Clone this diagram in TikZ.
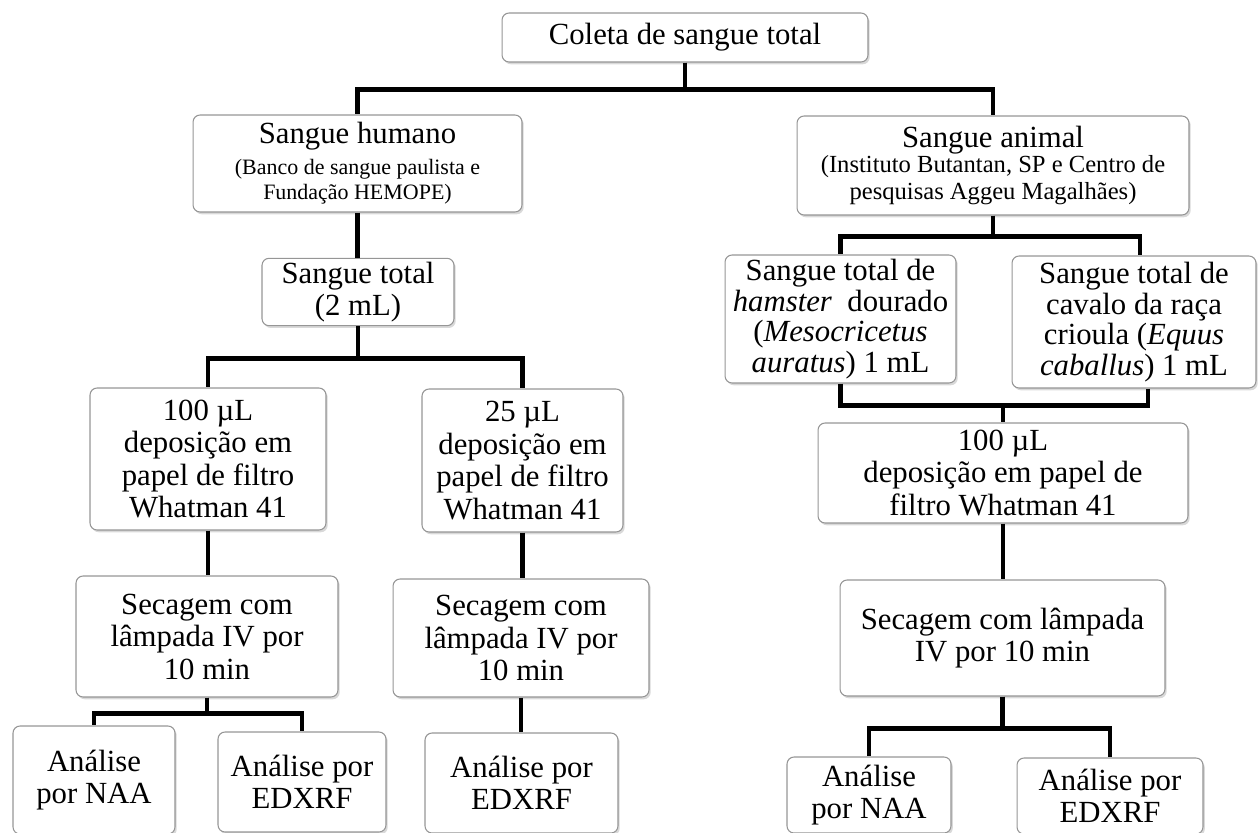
\documentclass[tikz,border=0pt]{standalone}
\usepackage{fontspec}
\setmainfont{Liberation Serif}
\usetikzlibrary{positioning,shadows}
\definecolor{boxline}{RGB}{150,150,150}
\newcommand{\notefont}{\fontsize{12.5}{15}\selectfont}
\newcommand{\notefontR}{\fontsize{14}{15}\selectfont}

\begin{document}
\begin{tikzpicture}[
    x=0.02cm, y=-0.02cm,
    every node/.style={font=\fontsize{17.5}{18.5}\selectfont},
    box/.style={draw=boxline, line width=0.6pt, fill=white, rounded corners=4pt, align=center, inner sep=2pt,
      drop shadow={shadow xshift=1pt, shadow yshift=-1.3pt, opacity=0.3}},
    link/.style={line width=2.6pt}
  ]
    \useasboundingbox (0,0) rectangle (1258,832);

    % topo
    \node[box, minimum width=7.32cm, minimum height=0.98cm] (coleta) at (685,37.5) {Coleta de sangue total};

    % ramo humano
    \node[box, minimum width=6.58cm, minimum height=1.94cm] (humano) at (357.5,163.5) {Sangue humano\\[-1pt]{\notefont (Banco de sangue paulista e}\\[-4pt]{\notefont Fundação HEMOPE)}};
    \node[box, minimum width=3.84cm, minimum height=1.32cm] (total) at (358,292) {Sangue total\\(2 mL)};
    \node[box, minimum width=4.72cm, minimum height=2.84cm] (dep100) at (208,459) {100 µL\\deposição em\\papel de filtro\\Whatman 41};
    \node[box, minimum width=4.02cm, minimum height=2.86cm] (dep25) at (522.5,460.5) {25 µL\\deposição em\\papel de filtro\\Whatman 41};
    \node[box, minimum width=5.24cm, minimum height=2.42cm] (secL) at (207,636.5) {Secagem com\\lâmpada IV por\\10 min};
    \node[box, minimum width=5.12cm, minimum height=2.36cm] (secM) at (521,638) {Secagem com\\lâmpada IV por\\10 min};
    \node[box, minimum width=3.24cm, minimum height=2.16cm] (naaL) at (94,780) {Análise\\por NAA};
    \node[box, minimum width=3.36cm, minimum height=2.0cm] (edxL) at (302,782) {Análise por\\EDXRF};
    \node[box, minimum width=3.86cm, minimum height=2.0cm] (edxM) at (521.5,783) {Análise por\\EDXRF};

    % ramo animal
    \node[box, minimum width=7.84cm, minimum height=1.98cm] (animal) at (993,165.5) {Sangue animal\\[-4pt]{\notefontR (Instituto Butantan, SP e Centro de}\\[-3pt]{\notefontR pesquisas Aggeu Magalhães)}};
    \node[box, minimum width=4.62cm, minimum height=2.56cm] (hamster) at (840.5,319) {Sangue total de\\[-1pt]\textit{hamster}\ \ dourado\\[-1pt](\textit{Mesocricetus}\\[-1pt]\textit{auratus}) 1 mL};
    \node[box, minimum width=4.88cm, minimum height=2.64cm] (cavalo) at (1134,322) {Sangue total de\\[-1pt]cavalo da raça\\[-1pt]crioula (\textit{Equus}\\[-1pt]\textit{caballus}) 1 mL};
    \node[box, minimum width=7.40cm, minimum height=2.0cm] (depR) at (1003,473) {100 µL\\deposição em papel de\\filtro Whatman 41};
    \node[box, minimum width=6.50cm, minimum height=2.32cm] (secR) at (1002.5,638) {Secagem com lâmpada\\IV por 10 min};
    \node[box, minimum width=3.28cm, minimum height=1.52cm] (naaR) at (869,795) {Análise\\por NAA};
    \node[box, minimum width=3.72cm, minimum height=1.52cm] (edxR) at (1110,796) {Análise por\\EDXRF};

    % ligacoes
    \draw[link] (coleta.south) -- ++(0,27) -| (humano.north);
    \draw[link] (coleta.south) -- ++(0,27) -| (animal.north);
    \draw[link] (humano.south) -- (humano.south |- total.north);
    \draw[link] (total.south) -- ++(0,32) -| (dep100.north);
    \draw[link] (total.south) -- ++(0,32) -| (dep25.north);
    \draw[link] (dep100.south) -- (dep100.south |- secL.north);
    \draw[link] (dep25.south) -- (dep25.south |- secM.north);
    \draw[link] (secL.south) -- ++(0,16) -| (naaL.north);
    \draw[link] (secL.south) -- ++(0,16) -| (edxL.north);
    \draw[link] (secM.south) -- (secM.south |- edxM.north);
    \draw[link] (animal.south) -- ++(0,21) -| (hamster.north);
    \draw[link] (animal.south) -- ++(0,21) -| ([xshift=0.12cm]cavalo.north);
    \draw[link] (hamster.south) -- ++(0,22) -| (depR.north);
    \draw[link] ([xshift=0.28cm]cavalo.south) -- ++(0,17) -| (depR.north);
    \draw[link] (depR.south) -- (depR.south |- secR.north);
    \draw[link] (secR.south) -- ++(0,32) -| (naaR.north);
    \draw[link] (secR.south) -- ++(0,32) -| (edxR.north);
  \end{tikzpicture}
\end{document}
